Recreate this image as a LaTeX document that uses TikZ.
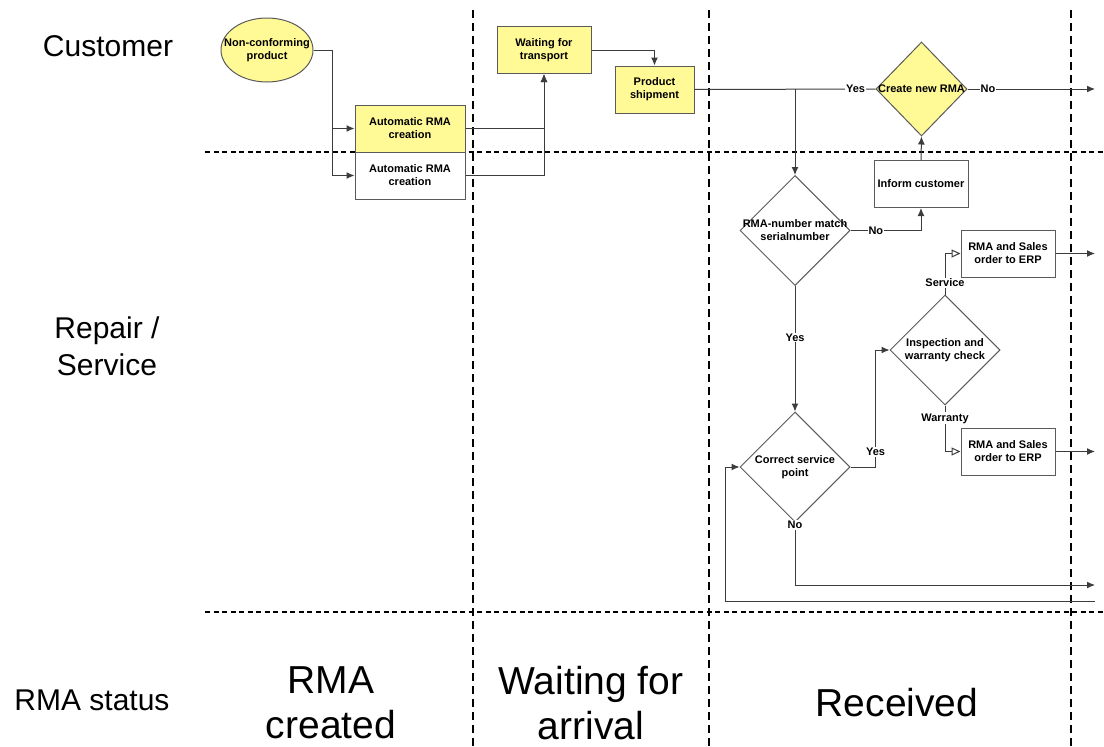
\documentclass[tikz,border=0pt]{standalone}
\usepackage{fontspec}
\setmainfont{Liberation Sans}
\usetikzlibrary{shapes.geometric,arrows.meta}
\definecolor{note}{RGB}{255,250,150}
\definecolor{edge}{RGB}{60,60,60}
\definecolor{frame}{RGB}{90,90,90}

\begin{document}
\begin{tikzpicture}[x=1pt,y=-1pt,
  small/.style={font=\fontsize{11}{13}\selectfont\bfseries, align=center, text=black, inner sep=0pt},
  box/.style={draw=frame, line width=1pt, minimum width=94pt, minimum height=47pt, inner sep=0pt, small},
  yel/.style={fill=note},
  dia/.style={diamond, draw=frame, line width=1pt, inner sep=0pt, minimum width=110pt, minimum height=110pt},
  lbl/.style={small, fill=white, inner sep=1pt},
  arr/.style={draw=edge, line width=1pt, -{Latex[length=8pt,width=7pt]}},
  oarr/.style={draw=edge, line width=1pt, -{Triangle[open,length=9pt,width=8pt]}},
  plain/.style={draw=edge, line width=1pt},
  hdash/.style={line width=1.8pt, dash pattern=on 5pt off 3.5pt},
  vdash/.style={line width=2.2pt, dash pattern=on 7.5pt off 5.5pt},
  lane/.style={font=\fontsize{30}{37}\selectfont, align=center, inner sep=0pt},
  status/.style={font=\fontsize{39}{45}\selectfont, align=center, inner sep=0pt}
]
\useasboundingbox (0,0) rectangle (1104,747);

% lane and phase separators
\draw[hdash] (205,152) -- (1104,152);
\draw[hdash] (205,612) -- (1104,612);
\draw[vdash] (473,10) -- (473,747);
\draw[vdash] (709,10) -- (709,747);
\draw[vdash] (1071,10) -- (1071,747);

% lane titles
\node[lane] (lcust) at (108,46) {Customer};
\node[lane] (lrep) at (107,346) {Repair /\\Service};
\node[lane] (lstat) at (92,700) {RMA status};

% phase titles
\node[status] (sc) at (331,703) {RMA\\created};
\node[status] (sw) at (591,703) {Waiting for\\arrival};
\node[status] (sr) at (897,703) {Received};

% customer lane
\node[ellipse, draw=frame, fill=note, line width=1pt, minimum width=92pt, minimum height=64pt, inner sep=0pt] (nc) at (267,50) {};
\node[small] (nct) at (nc) {Non-conforming\\product};
\node[box, yel, minimum width=110pt] (a1) at (410,128.5) {Automatic RMA\\creation};
\node[box, minimum width=110pt] (a2) at (410,175.5) {Automatic RMA\\creation};
\node[box, yel] (wt) at (544,50) {Waiting for\\transport};
\node[box, yel, minimum width=79pt] (ps) at (654.5,89.5) {Product\\shipment};
\node[dia, fill=note, minimum width=91pt, minimum height=94pt] (cn) at (921.5,89) {};
\node[small] (cnt) at (cn) {Create new RMA};

% repair / service lane
\node[box] (ic) at (921,184) {Inform customer};
\node[dia] (d1) at (795,230.5) {};
\node[small] (d1t) at (d1) {RMA-number match\\serialnumber};
\node[dia] (d2) at (795,467) {};
\node[small] (d2t) at (d2) {Correct service\\point};
\node[dia] (d3) at (945,350) {};
\node[small] (d3t) at (d3) {Inspection and\\warranty check};
\node[box] (r1) at (1008,253.5) {RMA and Sales\\order to ERP};
\node[box] (r2) at (1008,451.5) {RMA and Sales\\order to ERP};

% free ends at the right margin
\coordinate (br) at (795,89);
\coordinate (outA) at (1095,89);
\coordinate (outB) at (1095,253.5);
\coordinate (outC) at (1095,451.5);
\coordinate (outD) at (1095,585);
\coordinate (inL) at (1095,601);

% connectors
\draw[arr] (nc.east) -- ++(19,0) |- (a1.west);
\draw[arr] (nc.east) -- ++(19,0) |- (a2.west);
\draw[arr] (a1.east) -| (wt.south);
\draw[arr] (a2.east) -| (wt.south);
\draw[arr] (wt.east) -| (ps.north);
\draw[plain] (ps.east) -- node[lbl, pos=0.89] (yes1) {Yes} (cn.west);
\draw[arr] (br) -- (d1.north);
\draw[arr] (cn.east) -- node[lbl, pos=0.16] (no1) {No} (outA);
\draw[arr] (ic.north) -- (cn.south);
\draw[arr] (d1.east) -| node[lbl, pos=0.18] (no2) {No} (ic.south);
\draw[arr] (d1.south) -- node[lbl, pos=0.41] (yes2) {Yes} (d2.north);
\draw[arr] (d2.east) -- ++(25,0) |- node[lbl, pos=0.064] (yes3) {Yes} (d3.west);
\draw[oarr] (d3.north) |- node[lbl, pos=0.14] (svc) {Service} (r1.west);
\draw[oarr] (d3.south) |- node[lbl, pos=0.14] (wty) {Warranty} (r2.west);
\draw[arr] (r1.east) -- (outB);
\draw[arr] (r2.east) -- (outC);
\draw[arr] (d2.south) |- node[lbl, pos=0.02] (no3) {No} (outD);
\draw[arr] (inL) -- ++(-370,0) |- (d2.west);
\end{tikzpicture}
\end{document}
